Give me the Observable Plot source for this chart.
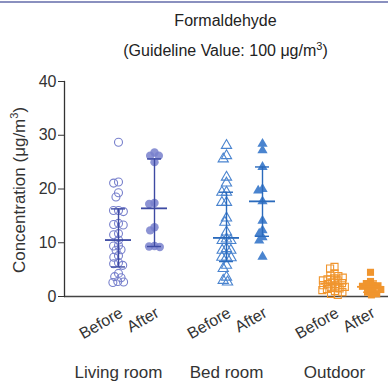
<!DOCTYPE html>
<html><head><meta charset="utf-8">
<script src="https://cdn.jsdelivr.net/npm/d3@7"></script>
<script src="https://cdn.jsdelivr.net/npm/@observablehq/plot@0.6"></script>
<style>
body{margin:0;background:#fff;font-family:"Liberation Sans",Arial,sans-serif;}
#wrap{position:relative;width:388px;height:383px;overflow:hidden;}
#topline{position:absolute;left:0;top:1px;width:388px;height:0;border-top:2px solid #8a90bf;}
.t{position:absolute;left:63px;width:325px;text-align:center;font-size:16px;line-height:16px;color:#222;}
</style></head>
<body><div id="wrap"><div id="topline"></div>
<div class="t" style="top:13px">Formaldehyde</div>
<div class="t" style="top:43px">(Guideline Value: 100 μg/m<sup style="font-size:11px;vertical-align:6px;line-height:0">3</sup>)</div>
</div>
<script>
// categories
const groups = ["Living room", "Bed room", "Outdoor"];
const keys = ["s0", "LB", "LA", "s1", "BB", "BA", "s2", "OB", "OA"];
const whenLabels = {LB: "Before", LA: "After", BB: "Before", BA: "After", OB: "Before", OA: "After"};
const groupKeys = ["LB", "BB", "OB"];
const yTicks = [0, 10, 20, 30, 40];

// series values (µg/m3)
const livingBefore = [28.7, 21.3, 21.1, 19.3, 18.5, 16.0, 16.0, 15.8, 13.6, 13.4, 13.3, 11.7, 11.5, 10.5, 9.5, 9.4, 8.7, 8.6, 7.6, 7.3, 6.3, 6.1, 5.8, 4.3, 3.7, 3.5, 2.8, 2.7, 2.6];
const livingAfter = [26.8, 26.2, 26.2, 25.0, 17.4, 17.2, 12.9, 12.3, 9.4, 9.3, 9.2];
const bedBefore = [28.1, 26.2, 25.6, 22.2, 21.1, 19.4, 19.4, 17.5, 17.5, 14.6, 13.8, 12.0, 10.7, 10.4, 10.4, 8.9, 8.6, 8.6, 7.3, 7.3, 7.2, 5.8, 5.2, 3.6, 3.0, 2.7];
const bedAfter = [28.4, 27.2, 24.1, 20.0, 19.7, 17.7, 14.1, 12.3, 11.7, 11.0, 10.4, 7.4];
const outdoorBefore = [5.5, 5.2, 4.3, 3.9, 3.8, 3.5, 3.4, 3.2, 3.0, 2.8, 2.6, 2.5, 2.3, 2.1, 2.0, 1.8, 1.6, 1.5, 1.4, 1.2, 1.0, 0.8, 0.5, 0.3];
const outdoorAfter = [4.5, 2.8, 2.4, 2.1, 2.0, 1.9, 1.6, 1.3, 1.1, 0.8, 0.5, 0.3];

// summary (mean and error bar ends)
const sumKeys = ["LB", "LA", "BB", "BA", "OB", "OA"];
const means = [10.5, 16.4, 10.9, 17.7, 2.4, 1.8];
const errLo = [5.5, 9.3, 6.5, 11.2, 1.0, 0.8];
const errHi = [16.3, 25.6, 19.4, 24.1, 3.8, 2.9];

const cLiving = "#7880cc", cLivingDark = "#3d4aa3";
const cBed = "#4a84cf", cBedDark = "#2a6abc";
const cOut = "#f0952e", cOutDark = "#f0952e";

const rows = (key, vals) => vals.map(v => ({key, v}));
const summary = sumKeys.map((k, i) => ({key: k, mean: means[i], lo: errLo[i], hi: errHi[i]}));
const baseline = keys.map(k => ({key: k, v: 0}));
const darkOf = k => k[0] === "L" ? cLivingDark : k[0] === "B" ? cBedDark : cOutDark;

const dodge = (data, pad, o) => Plot.dot(data, Plot.dodgeX({anchor: "middle", padding: pad}, {fx: "key", y: "v", ...o}));

const plot = Plot.plot({
  width: 388, height: 383,
  marginLeft: 63, marginRight: 0, marginTop: 81, marginBottom: 87,
  style: {fontFamily: "'Liberation Sans', Arial, sans-serif", fontSize: "16px", color: "#333", overflow: "visible"},
  fx: {domain: keys, padding: 0, axis: null, label: null},
  y: {domain: [0, 40], ticks: yTicks, label: null},
  marks: [
    Plot.ruleY(baseline, {fx: "key", y: "v", stroke: "#444", strokeWidth: 1.5}),
    Plot.axisY({ticks: yTicks, tickSize: 6, tickPadding: 2, label: null, fontSize: 16, stroke: "#333"}),
    Plot.frame({anchor: "left", facetAnchor: "left", stroke: "#333", strokeWidth: 1.3}),
    Plot.axisFx({anchor: "bottom", tickSize: 0, tickPadding: 15, tickRotate: -30, fontSize: 16, dx: 3,
      tickFormat: k => whenLabels[k] || "", label: null}),
    Plot.text(groupKeys, {fx: d => d, text: (d, i) => groups[i], frameAnchor: "bottom", dy: 81, fontSize: 17, fill: "#333"}),
    // points
    dodge(rows("LB", livingBefore), -3, {r: 4, symbol: "circle", stroke: cLiving, strokeWidth: 1.1, fill: "none"}),
    dodge(rows("LA", livingAfter), -3, {r: 4.2, symbol: "circle", fill: cLiving, fillOpacity: 0.85}),
    dodge(rows("BB", bedBefore), -3, {r: 3.8, symbol: "triangle", stroke: cBed, strokeWidth: 1.1, fill: "none"}),
    dodge(rows("BA", bedAfter), -3, {r: 3.8, symbol: "triangle", fill: cBed}),
    dodge(rows("OB", outdoorBefore), -3.3, {r: 4, symbol: "square", stroke: cOut, strokeWidth: 1.1, fill: "none"}),
    dodge(rows("OA", outdoorAfter), -3.3, {r: 4, symbol: "square", fill: cOut}),
    // mean and error bars
    Plot.ruleX(summary, {fx: "key", x: null, y1: "lo", y2: "hi", stroke: d => darkOf(d.key), strokeWidth: 1.4}),
    Plot.tickY(summary, {fx: "key", y: "mean", insetLeft: 5, insetRight: 5, stroke: d => darkOf(d.key), strokeWidth: 1.8}),
    Plot.tickY(summary, {fx: "key", y: "lo", insetLeft: 11, insetRight: 11, stroke: d => darkOf(d.key), strokeWidth: 1.4}),
    Plot.tickY(summary, {fx: "key", y: "hi", insetLeft: 11, insetRight: 11, stroke: d => darkOf(d.key), strokeWidth: 1.4})
  ]
});
plot.style.position = "absolute";
plot.style.left = "0px";
plot.style.top = "0px";
const lab = d3.select(plot).append("text")
  .attr("transform", "translate(25,190) rotate(-90)")
  .attr("text-anchor", "middle")
  .attr("fill", "#333")
  .attr("font-size", 17);
lab.append("tspan").text("Concentration (μg/m");
lab.append("tspan").attr("font-size", 11).attr("dy", -7).text("3");
lab.append("tspan").attr("dy", 7).text(")");
document.getElementById("wrap").prepend(plot);
</script></body></html>
